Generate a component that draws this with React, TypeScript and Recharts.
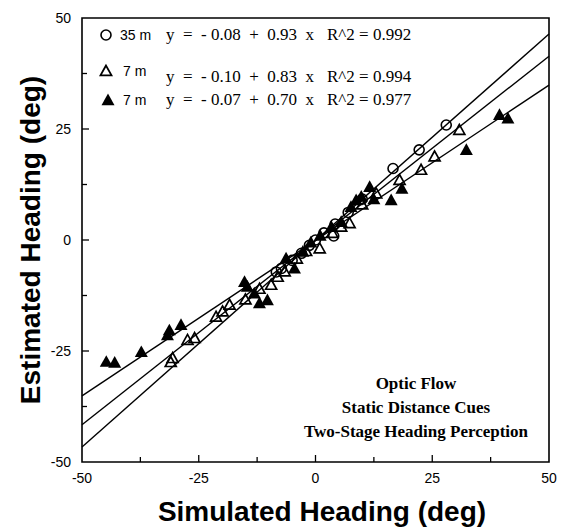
import React from 'react';
import { ScatterChart, Scatter, XAxis, YAxis, ReferenceLine, ReferenceArea } from 'recharts';

// axis ticks (major every 25, minor every 12.5)
const axisTicks = [-50, -37.5, -25, -12.5, 0, 12.5, 25, 37.5, 50];

// 35 m, open circles
const circle35m = [
  { x: -8.4, y: -7.2 }, { x: -7.3, y: -6.4 }, { x: -5, y: -4.6 }, { x: -3, y: -3 },
  { x: -1.3, y: -1.2 }, { x: 0, y: 0 }, { x: 1.8, y: 1.6 }, { x: 3.9, y: 0.9 },
  { x: 4.2, y: 3.6 }, { x: 7, y: 6.2 }, { x: 10, y: 9.2 }, { x: 16.6, y: 16.1 },
  { x: 22.2, y: 20.3 }, { x: 28, y: 25.9 },
];

// 7 m, open triangles
const openTri7m = [
  { x: -31, y: -27.5 }, { x: -30.6, y: -26.6 }, { x: -27.4, y: -22.5 }, { x: -25.9, y: -22.1 },
  { x: -21.3, y: -17.3 }, { x: -19.9, y: -16.1 }, { x: -18.4, y: -14.6 }, { x: -15, y: -13.4 },
  { x: -12, y: -11 }, { x: -9.5, y: -10.1 }, { x: -8.1, y: -8.3 }, { x: -6.6, y: -7.1 },
  { x: -4, y: -4.2 }, { x: -2, y: -2.5 }, { x: 0.9, y: -1.9 }, { x: 3.6, y: 1.6 },
  { x: 5.5, y: 3 }, { x: 7.3, y: 3.8 }, { x: 10, y: 8 }, { x: 13, y: 10.5 },
  { x: 18, y: 13.5 }, { x: 22.6, y: 15.8 }, { x: 25.5, y: 18.8 }, { x: 30.8, y: 24.8 },
];

// 7 m, filled triangles
const filledTri7m = [
  { x: -44.8, y: -27.4 }, { x: -43, y: -27.6 }, { x: -37.3, y: -25.2 }, { x: -31.7, y: -21.4 },
  { x: -31.3, y: -20.3 }, { x: -28.8, y: -19.1 }, { x: -15.2, y: -9.4 }, { x: -14.6, y: -10.5 },
  { x: -13.1, y: -12 }, { x: -12, y: -14.2 }, { x: -10.3, y: -13.5 }, { x: -6.3, y: -4.1 },
  { x: -4.5, y: -6.4 }, { x: -2.7, y: -2.6 }, { x: -1, y: -0.5 }, { x: 1, y: 1 },
  { x: 3.4, y: 3 }, { x: 5.5, y: 4.1 }, { x: 7.6, y: 7.5 }, { x: 8.7, y: 9 },
  { x: 9.8, y: 9.8 }, { x: 11.6, y: 12 }, { x: 12.5, y: 9.2 }, { x: 16.2, y: 9 },
  { x: 18.5, y: 11.6 }, { x: 32.3, y: 20.3 }, { x: 39.4, y: 28.2 }, { x: 41.2, y: 27.4 },
];

// regression line ends, read where they meet the frame
const fit35m = [{ x: -50, y: -46.6 }, { x: 50, y: 46.4 }];
const fitOpen7m = [{ x: -50, y: -41.6 }, { x: 50, y: 41.4 }];
const fitFilled7m = [{ x: -50, y: -35.1 }, { x: 50, y: 34.9 }];

const legendRows = [
  { label: '35 m', eq: 'y  =  - 0.08  +  0.93  x', r2: 'R^2 = 0.992' },
  { label: '7 m', eq: 'y  =  - 0.10  +  0.83  x', r2: 'R^2 = 0.994' },
  { label: '7 m', eq: 'y  =  - 0.07  +  0.70  x', r2: 'R^2 = 0.977' },
];

const noteLines = ['Optic Flow', 'Static Distance Cues', 'Two-Stage Heading Perception'];

const sans = '"Liberation Sans", Arial, sans-serif';
const serif = '"Liberation Serif", "Times New Roman", serif';

const OpenCircle = (p: any) => (
  <circle cx={p.cx} cy={p.cy} r={5} fill="none" stroke="#000" strokeWidth={1.6} />
);
const tri = (cx: number, cy: number, s: number) =>
  `${cx},${cy - s} ${cx - s},${cy + s * 0.8} ${cx + s},${cy + s * 0.8}`;
const OpenTri = (p: any) => (
  <polygon points={tri(p.cx, p.cy, 5.5)} fill="none" stroke="#000" strokeWidth={1.7} />
);
const FilledTri = (p: any) => <polygon points={tri(p.cx, p.cy, 6.5)} fill="#000" />;

const XTick = (p: any) => {
  const v = p.payload.value;
  const major = v % 25 === 0;
  return (
    <g>
      {v !== -50 && v !== 50 && (
        <line x1={p.x} x2={p.x} y1={p.y} y2={p.y - (major ? 7 : 5)} stroke="#000" strokeWidth={1.3} />
      )}
      {major && (
        <text x={p.x} y={p.y + 21} textAnchor="middle" fontFamily={sans} fontSize={14} fill="#000">
          {v}
        </text>
      )}
    </g>
  );
};

const YTick = (p: any) => {
  const v = p.payload.value;
  const major = v % 25 === 0;
  return (
    <g>
      {v !== -50 && v !== 50 && (
        <line x1={p.x} x2={p.x + (major ? 7 : 5)} y1={p.y} y2={p.y} stroke="#000" strokeWidth={1.3} />
      )}
      {major && (
        <text x={p.x - 11} y={p.y + 5} textAnchor="end" fontFamily={sans} fontSize={14} fill="#000">
          {v}
        </text>
      )}
    </g>
  );
};

export default function App() {
  return (
    <div style={{ position: 'absolute', left: 0, top: 0, width: 572, height: 527, background: '#fff' }}>
      <ScatterChart width={572} height={527} margin={{ top: 18, right: 23, bottom: 64, left: 22 }}>
        <XAxis
          dataKey="x"
          type="number"
          domain={[-50, 50]}
          ticks={axisTicks}
          interval={0}
          height={1}
          tick={<XTick />}
          tickLine={false}
          tickSize={0}
          tickMargin={0}
          axisLine={false}
        />
        <YAxis
          dataKey="y"
          type="number"
          domain={[-50, 50]}
          ticks={axisTicks}
          interval={0}
          width={60}
          tick={<YTick />}
          tickLine={false}
          tickSize={0}
          tickMargin={0}
          axisLine={false}
        />
        <ReferenceArea x1={-50} x2={50} y1={-50} y2={50} fill="none" stroke="#000" strokeWidth={1.6} fillOpacity={0} />
        <ReferenceLine segment={fit35m} stroke="#000" strokeWidth={1.4} />
        <ReferenceLine segment={fitOpen7m} stroke="#000" strokeWidth={1.4} />
        <ReferenceLine segment={fitFilled7m} stroke="#000" strokeWidth={1.4} />
        <Scatter data={circle35m} shape={OpenCircle} isAnimationActive={false} />
        <Scatter data={openTri7m} shape={OpenTri} isAnimationActive={false} />
        <Scatter data={filledTri7m} shape={FilledTri} isAnimationActive={false} />
      </ScatterChart>
      <svg
        width={572}
        height={527}
        style={{ position: 'absolute', left: 0, top: 0, pointerEvents: 'none' }}
      >
        {/* legend */}
        <circle cx={106} cy={35} r={5} fill="none" stroke="#000" strokeWidth={1.6} />
        <polygon points={tri(106, 71, 5.5)} fill="none" stroke="#000" strokeWidth={1.8} />
        <polygon points={tri(108, 100, 6.5)} fill="#000" />
        {legendRows.map((r, i) => {
          const y = [40, 82, 105][i];
          const ly = [40, 76, 105][i];
          return (
            <g key={i}>
              <text x={i === 0 ? 120 : 123} y={ly} fontFamily={sans} fontSize={14} fill="#000">{r.label}</text>
              <text x={166} y={y} fontFamily={serif} fontSize={17} fill="#000" style={{ whiteSpace: 'pre' }}>{r.eq}</text>
              <text x={327} y={y} fontFamily={serif} fontSize={17} fill="#000">{r.r2}</text>
            </g>
          );
        })}
        {/* annotation */}
        {noteLines.map((t, i) => (
          <text key={t} x={416} y={389 + i * 24} textAnchor="middle" fontFamily={serif} fontWeight="bold" fontSize={17} fill="#000">
            {t}
          </text>
        ))}
        {/* axis titles */}
        <text x={322} y={521} textAnchor="middle" fontFamily={sans} fontWeight="bold" fontSize={28} fill="#000">
          Simulated Heading (deg)
        </text>
        <text
          x={40}
          y={240}
          textAnchor="middle"
          transform="rotate(-90 40 240)"
          fontFamily={sans}
          fontWeight="bold"
          fontSize={28}
          fill="#000"
        >
          Estimated Heading (deg)
        </text>
      </svg>
    </div>
  );
}
